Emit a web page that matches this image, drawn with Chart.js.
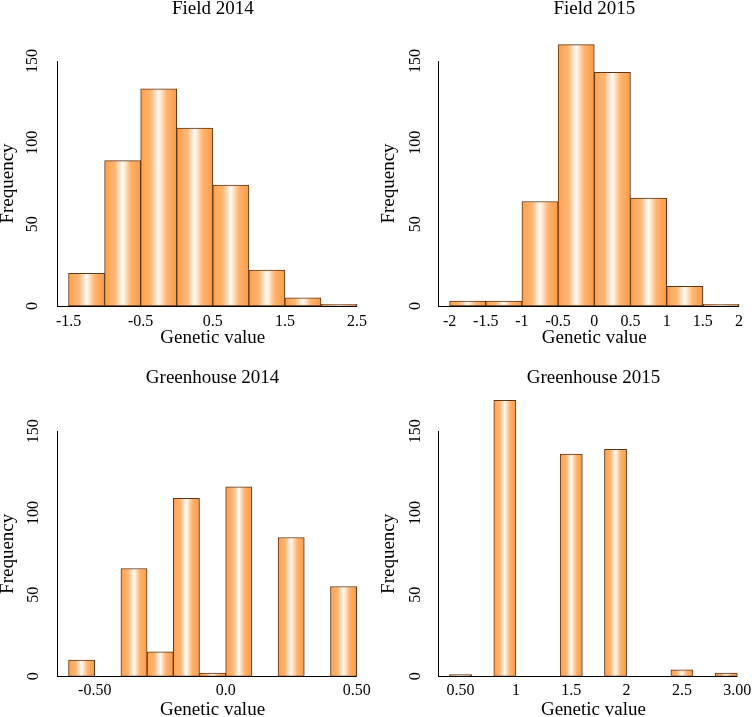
<!DOCTYPE html>
<html>
<head>
<meta charset="utf-8">
<script src="https://cdn.jsdelivr.net/npm/chart.js@4/dist/chart.umd.min.js"></script>
<style>
  html, body { margin: 0; padding: 0; background: #fff; }
  #grid { position: relative; width: 752px; height: 717px; }
  .panel { position: absolute; }
</style>
</head>
<body>
<div id="grid">
  <div class="panel" style="left:0;top:0"><canvas id="c1" width="376" height="358"></canvas></div>
  <div class="panel" style="left:376px;top:0"><canvas id="c2" width="376" height="358"></canvas></div>
  <div class="panel" style="left:0;top:358px"><canvas id="c3" width="376" height="359"></canvas></div>
  <div class="panel" style="left:376px;top:358px"><canvas id="c4" width="376" height="359"></canvas></div>
</div>
<script>
// histogram data (bin starts + counts)
const field14Bins   = [-1.5, -1, -0.5, 0, 0.5, 1, 1.5, 2];
const field14Counts = [20, 89, 133, 109, 74, 22, 5, 1];
const field14Ticks  = [-1.5, -0.5, 0.5, 1.5, 2.5];
const field14Labels = ['-1.5', '-0.5', '0.5', '1.5', '2.5'];

const field15Bins   = [-2, -1.5, -1, -0.5, 0, 0.5, 1, 1.5];
const field15Counts = [3, 3, 64, 160, 143, 66, 12, 1];
const field15Ticks  = [-2, -1.5, -1, -0.5, 0, 0.5, 1, 1.5, 2];
const field15Labels = ['-2', '-1.5', '-1', '-0.5', '0', '0.5', '1', '1.5', '2'];

const green14Bins   = [-0.6, -0.5, -0.4, -0.3, -0.2, -0.1, 0, 0.1, 0.2, 0.3, 0.4];
const green14Counts = [10, 0, 66, 15, 109, 2, 116, 0, 85, 0, 55];
const green14Ticks  = [-0.5, 0, 0.5];
const green14Labels = ['-0.50', '0.0', '0.50'];

const green15Bins   = [0.4, 0.6, 0.8, 1.0, 1.2, 1.4, 1.6, 1.8, 2.0, 2.2, 2.4, 2.6, 2.8];
const green15Counts = [1, 0, 169, 0, 0, 136, 0, 139, 0, 0, 4, 0, 2];
const green15Ticks  = [0.5, 1, 1.5, 2, 2.5, 3];
const green15Labels = ['0.50', '1', '1.5', '2', '2.5', '3.00'];

const yTicks = [0, 50, 100, 150];

Chart.defaults.font.family = "'Liberation Serif', 'Times New Roman', serif";
Chart.defaults.color = '#000';

// orange -> white -> orange across each bar
function barFill(ctx, half) {
  const xs = ctx.chart.scales && ctx.chart.scales.x;
  if (ctx.type !== 'data' || !xs || !ctx.raw) return '#FFA54F';
  const x0 = xs.getPixelForValue(ctx.raw.x - half);
  const x1 = xs.getPixelForValue(ctx.raw.x + half);
  if (!isFinite(x0) || !isFinite(x1) || x1 <= x0) return '#FFA54F';
  const g = ctx.chart.ctx.createLinearGradient(x0, 0, x1, 0);
  g.addColorStop(0, '#FFA04B');
  g.addColorStop(0.28, '#FFB673');
  g.addColorStop(0.5, '#FFFCF7');
  g.addColorStop(0.72, '#FFB470');
  g.addColorStop(1, '#F99A45');
  return g;
}

// x axis line only runs from the y axis to the last bar
const baseline = {
  id: 'baseline',
  afterDatasetsDraw(chart, args, opts) {
    const { ctx, chartArea, scales } = chart;
    const xEnd = scales.x.getPixelForValue(opts.end);
    const y = Math.round(chartArea.bottom) + 0.5;
    ctx.save();
    ctx.strokeStyle = '#000';
    ctx.lineWidth = 1;
    ctx.beginPath();
    ctx.moveTo(chartArea.left, y);
    ctx.lineTo(xEnd, y);
    ctx.stroke();
    ctx.restore();
  }
};

function histogram(id, p) {
  const half = p.binWidth / 2;
  const lo = p.bins[0];
  const hi = p.bins[p.bins.length - 1] + p.binWidth;
  const ext = 0.04 * (hi - lo);
  const points = p.bins.map((b, i) => ({ x: b + half, y: p.counts[i] }));

  new Chart(document.getElementById(id), {
    type: 'bar',
    data: {
      datasets: [{
        data: points,
        backgroundColor: ctx => barFill(ctx, half),
        borderColor: '#5C3517',
        borderWidth: 1,
        borderSkipped: false,
        barPercentage: 1,
        categoryPercentage: 1,
        clip: false
      }]
    },
    plugins: [baseline],
    options: {
      responsive: false,
      animation: false,
      events: [],
      layout: { padding: { left: 0, top: 0, bottom: 0, right: p.padRight } },
      plugins: {
        legend: { display: false },
        tooltip: { enabled: false },
        baseline: { end: hi },
        title: {
          display: true,
          text: p.title,
          fullSize: false,
          font: { size: 19, weight: 'normal', lineHeight: 1 },
          padding: { top: p.titleTop, bottom: p.titleBottom }
        }
      },
      scales: {
        x: {
          type: 'linear',
          offset: false,
          min: lo - ext,
          max: hi + ext,
          grid: { display: false, offset: false, drawTicks: true, tickLength: p.xTickGap, tickColor: 'transparent' },
          border: { display: false },
          afterBuildTicks: s => { s.ticks = p.ticks.map(v => ({ value: v })); },
          afterFit: s => { s.height = p.xHeight; },
          ticks: {
            autoSkip: false, maxRotation: 0, minRotation: 0, padding: 0,
            font: { size: 16, lineHeight: 1 },
            callback: (v, i) => p.labels[i]
          },
          title: {
            display: true, text: 'Genetic value',
            font: { size: 19, lineHeight: 1 },
            padding: { top: 0, bottom: p.xTitlePad }
          }
        },
        y: {
          min: 0,
          max: 150,
          grid: { display: false, drawTicks: true, tickLength: p.yTickGap, tickColor: 'transparent' },
          border: { display: true, color: '#000', width: 1 },
          afterBuildTicks: s => { s.ticks = yTicks.map(v => ({ value: v })); },
          afterFit: s => { s.width = p.yWidth; },
          ticks: {
            minRotation: 90, maxRotation: 90, crossAlign: 'center', padding: 0,
            font: { size: 16, lineHeight: 1 },
            callback: v => String(v)
          },
          title: {
            display: true, text: 'Frequency',
            font: { size: 19, lineHeight: 1 },
            padding: { top: p.yTitlePad, bottom: 0 }
          }
        }
      }
    }
  });
}

histogram('c1', {
  title: 'Field 2014', bins: field14Bins, counts: field14Counts, binWidth: 0.5,
  ticks: field14Ticks, labels: field14Labels,
  padRight: 7.4, titleTop: -0.5, titleBottom: 42.5, xHeight: 52, xTickGap: 8, xTitlePad: 10.5,
  yWidth: 57, yTickGap: 12, yTitlePad: -1.2
});
histogram('c2', {
  title: 'Field 2015', bins: field15Bins, counts: field15Counts, binWidth: 0.5,
  ticks: field15Ticks, labels: field15Labels,
  padRight: 1.4, titleTop: -0.5, titleBottom: 42.5, xHeight: 52, xTickGap: 8, xTitlePad: 10.5,
  yWidth: 62, yTickGap: 10, yTitlePad: 3.8
});
histogram('c3', {
  title: 'Greenhouse 2014', bins: green14Bins, counts: green14Counts, binWidth: 0.1,
  ticks: green14Ticks, labels: green14Labels,
  padRight: 7.8, titleTop: 10.5, titleBottom: 43.8, xHeight: 40.7, xTickGap: 6.7, xTitlePad: -2.2,
  yWidth: 57, yTickGap: 11.7, yTitlePad: -1.2
});
histogram('c4', {
  title: 'Greenhouse 2015', bins: green15Bins, counts: green15Counts, binWidth: 0.2,
  ticks: green15Ticks, labels: green15Labels,
  padRight: 3.2, titleTop: 10.5, titleBottom: 43.8, xHeight: 40.7, xTickGap: 6.7, xTitlePad: -2.2,
  yWidth: 62, yTickGap: 10, yTitlePad: 3.8
});
</script>
</body>
</html>
